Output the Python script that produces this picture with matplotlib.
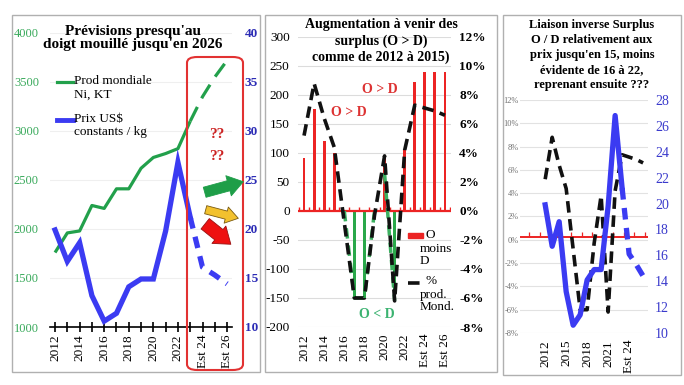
import matplotlib
matplotlib.use("Agg")
import matplotlib.pyplot as plt
import numpy as np
from matplotlib.patches import Rectangle, FancyBboxPatch, FancyArrowPatch
from matplotlib.lines import Line2D

plt.rcParams['font.family'] = ['Liberation Serif', 'DejaVu Serif']
plt.rcParams['axes.unicode_minus'] = False

# ---------------- data ----------------
years = ['2012', '2013', '2014', '2015', '2016', '2017', '2018', '2019', '2020',
         '2021', '2022', '2023', 'Est 24', 'Est 25', 'Est 26']
prod_ni = [1760, 1960, 1980, 2240, 2210, 2410, 2410, 2620, 2730, 2770, 2820, 3100, 3350, 3550, 3720]
price_usd = [19.9, 16.7, 18.6, 13.2, 10.6, 11.4, 14.1, 14.9, 14.9, 19.8, 26.8, 21.2, 16.1, 15.3, 14.4]
n_actual = 12  # 2012..2023 solid, then estimates dashed

surplus_pos = [92, 175, 120, 100, 0, 0, 0, 0, 95, 0, 105, 222, 240, 240, 240]
surplus_neg = [0, 0, 0, 0, 0, -150, -150, 0, 0, -145, 0, 0, 0, 0, 0]
neg_line_a = [None, None, None, None, 0, -150, -150, 0, None, None, None, None, None, None, None]
neg_line_b = [None, None, None, None, None, None, None, None, 65, -155, None, None, None, None, None]
pct_prod = [5.2, 8.8, 6.4, 4.4, -0.8, -6.0, -6.0, -0.3, 3.8, -6.2, 4.2, 7.3, 7.1, 6.9, 6.6]

W, H = 684, 385
fig = plt.figure(figsize=(W / 100, H / 100), dpi=100)


def axes_px(l, t, r, b):
    return fig.add_axes([l / W, 1 - b / H, (r - l) / W, (b - t) / H])


def fx(x):
    return x / W


def fy(y):
    return 1 - y / H


# panel frames
for (l, t, r, b) in [(12, 15, 260, 372), (265, 15, 497, 372), (503, 15, 681, 375)]:
    fig.add_artist(Rectangle((fx(l), fy(b)), (r - l) / W, (b - t) / H, transform=fig.transFigure,
                             fill=False, ec='#b0b0b0', lw=1.0))

x = np.arange(len(years))
GREEN = '#22a04b'
BLUE = '#3b3bf2'
RED = '#ec2424'

# ================= Panel 1 =================
ax1 = axes_px(50, 33, 232, 327)
ax1.set_xlim(-0.41, 14.4)
ax1.set_ylim(1000, 4000)
ax1.set_yticks(np.arange(1000, 4001, 500))
ax1.grid(axis='y', color='#efefef', lw=0.8)
ax1.set_axisbelow(True)
for s in ['top', 'left', 'right']:
    ax1.spines[s].set_visible(False)
ax1.spines['bottom'].set_color('black')
ax1.spines['bottom'].set_linewidth(1.2)
ax1.tick_params(axis='y', length=0, labelcolor='#3aaa5c', labelsize=9, pad=8)
ax1.set_xticks(x)
ax1.set_xticklabels([y if i % 2 == 0 else '' for i, y in enumerate(years)], rotation=90, fontsize=9.5)
ax1.tick_params(axis='x', direction='inout', length=7, width=1.2, pad=2)
ax1.plot(x[:n_actual], prod_ni[:n_actual], color=GREEN, lw=2.3, solid_capstyle='butt')
ax1.plot(x[n_actual - 1:], prod_ni[n_actual - 1:], color=GREEN, lw=2.3, dashes=(5, 3))

ax1b = ax1.twinx()
ax1b.set_ylim(10, 40)
ax1b.set_yticks(np.arange(10, 41, 5))
for s in ['top', 'left', 'right', 'bottom']:
    ax1b.spines[s].set_visible(False)
ax1b.tick_params(axis='y', length=0, labelcolor='#2b2bb5', labelsize=9.5, pad=9)
for lab in ax1b.get_yticklabels():
    lab.set_fontweight('bold')
ax1b.plot(x[:n_actual], price_usd[:n_actual], color=BLUE, lw=3.8, solid_joinstyle='miter')
ax1b.plot(x[n_actual - 1:], price_usd[n_actual - 1:], color=BLUE, lw=3.8, dashes=(2.2, 1.6))

# legend panel 1
fig.add_artist(Line2D([fx(57), fx(73)], [fy(82), fy(82)], color=GREEN, lw=2.3))
fig.text(fx(74), fy(75), "Prod mondiale\nNi, KT", fontsize=9.5, va='top', ha='left', linespacing=1.15)
fig.add_artist(Line2D([fx(57), fx(73)], [fy(120), fy(120)], color=BLUE, lw=3.5))
fig.text(fx(74), fy(113), "Prix US$\nconstants / kg", fontsize=9.5, va='top', ha='left', linespacing=1.15)

# title panel 1
fig.text(fx(133), fy(25), "Prévisions presqu'au\ndoigt mouillé jusqu'en 2026", fontsize=11,
         fontweight='bold', ha='center', va='top', linespacing=1.02)

# red rounded box + ?? + arrows
fig.add_artist(FancyBboxPatch((fx(187), fy(370)), (243 - 187) / W, (370 - 57) / H,
                              boxstyle='round,pad=0,rounding_size=0.015', transform=fig.transFigure,
                              fill=False, ec='#e23232', lw=1.5))
fig.text(fx(217), fy(135), "??", color='#cc2222', fontsize=11, fontweight='bold', ha='center', va='center')
fig.text(fx(217), fy(157), "??", color='#cc2222', fontsize=11, fontweight='bold', ha='center', va='center')


def fig_arrow(p0, p1, fc, ec, tw, hw, hl):
    a = FancyArrowPatch((fx(p0[0]), fy(p0[1])), (fx(p1[0]), fy(p1[1])), transform=fig.transFigure,
                        arrowstyle=f'simple,head_length={hl},head_width={hw},tail_width={tw}',
                        mutation_scale=10, fc=fc, ec=ec, lw=0.6)
    fig.add_artist(a)


fig_arrow((202, 193), (246, 181), '#1e9e48', '#1e9e48', 0.75, 1.5, 1.1)
fig_arrow((203, 209), (241, 219), '#f2c12e', '#7a5a10', 0.6, 1.2, 0.9)
fig_arrow((203, 222), (233, 246), '#ee1111', '#991111', 0.95, 1.6, 1.1)

# ================= Panel 2 =================
ax2 = axes_px(298, 37, 451, 327)
ax2.set_xlim(-0.6, 14.6)
ax2.set_ylim(-200, 300)
ax2.set_yticks(np.arange(-200, 301, 50))
ax2.grid(axis='y', color='#dcdcdc', lw=0.8)
ax2.set_axisbelow(True)
for s in ['top', 'left', 'right', 'bottom']:
    ax2.spines[s].set_visible(False)
ax2.tick_params(axis='y', length=0, labelsize=9.5, pad=6)
ax2.set_xticks(x)
ax2.set_xticklabels([y if i % 2 == 0 else '' for i, y in enumerate(years)], rotation=90, fontsize=9.5)
ax2.tick_params(axis='x', length=0, pad=5)
ax2.bar(x, surplus_pos, width=0.28, color=RED, zorder=2)
ax2.bar(x, surplus_neg, width=0.28, color='#2aa84a', zorder=2)
ax2.axhline(0, color=RED, lw=1.6, zorder=3)
ax2.vlines(np.arange(-0.5, 14.6, 1.0), 0, 7, color=RED, lw=1.0, zorder=3)
ax2.plot(x, [np.nan if v is None else v for v in neg_line_a], color='#3cb060', lw=2.5, dashes=(3, 2), zorder=5)
ax2.plot(x, [np.nan if v is None else v for v in neg_line_b], color='#3cb060', lw=2.5, dashes=(3, 2), zorder=5)

ax2b = ax2.twinx()
ax2b.set_ylim(-8, 12)
ax2b.set_yticks(np.arange(-8, 13, 2))
ax2b.set_yticklabels([f'{v}%' for v in range(-8, 13, 2)])
for s in ['top', 'left', 'right', 'bottom']:
    ax2b.spines[s].set_visible(False)
ax2b.tick_params(axis='y', length=0, labelsize=9.5, pad=6)
for lab in ax2b.get_yticklabels():
    lab.set_fontweight('bold')
ax2b.plot(x, pct_prod, color='#111111', lw=2.6, dashes=(3.2, 1.8), zorder=4)

ax2.text(7.5, 210, "O > D", color='#dd3333', fontsize=10, fontweight='bold', ha='center', va='center')
ax2.text(4.4, 169, "O > D", color='#dd3333', fontsize=10, fontweight='bold', ha='center', va='center')
ax2.text(7.25, -179, "O < D", color='#3cb371', fontsize=10, fontweight='bold', ha='center', va='center')

fig.text(fx(381), fy(18), "Augmentation à venir des\nsurplus (O > D)\ncomme de 2012 à 2015)", fontsize=10,
         fontweight='bold', ha='center', va='top', linespacing=1.3)

# legend panel 2
fig.add_artist(Rectangle((fx(408), fy(238)), 15 / W, 5 / H, transform=fig.transFigure, color=RED))
fig.text(fx(425), fy(235), "O", fontsize=9.5, ha='left', va='center')
fig.text(fx(420), fy(243), "moins\nD", fontsize=9.5, ha='left', va='top', linespacing=1.0)
fig.add_artist(Line2D([fx(408), fx(423)], [fy(283), fy(283)], color='#111111', lw=2.6, dashes=(3.2, 1.8)))
fig.text(fx(425), fy(281), "%", fontsize=9.5, ha='left', va='center')
fig.text(fx(420), fy(289), "prod.\nMond.", fontsize=9.5, ha='left', va='top', linespacing=1.0)

# ================= Panel 3 =================
ax3 = axes_px(520, 100, 648, 333)
ax3.set_xlim(-3.6, 14.7)
ax3.set_ylim(-8, 12)
ax3.set_yticks(np.arange(-8, 13, 2))
ax3.set_yticklabels([f'{v}%' for v in range(-8, 13, 2)])
ax3.grid(axis='y', color='#e2e2e2', lw=0.8)
ax3.set_axisbelow(True)
for s in ['top', 'left', 'right', 'bottom']:
    ax3.spines[s].set_visible(False)
ax3.tick_params(axis='y', length=0, labelsize=6, labelcolor='#707070', pad=1)
ax3.set_xticks(x[::3])
ax3.set_xticklabels(years[::3], rotation=90, fontsize=9.5)
ax3.tick_params(axis='x', length=0, pad=5)
ax3.axhline(0.2, color=RED, lw=1.4, zorder=2)
ax3.vlines(np.linspace(-2.3, 14.2, 12), 0.2, 0.7, color=RED, lw=0.9, zorder=2)
ax3.plot(x, pct_prod, color='#111111', lw=2.6, dashes=(3.2, 1.8), zorder=4)

ax3b = ax3.twinx()
ax3b.set_ylim(10, 28)
ax3b.set_yticks(np.arange(10, 29, 2))
for s in ['top', 'left', 'right', 'bottom']:
    ax3b.spines[s].set_visible(False)
ax3b.tick_params(axis='y', length=0, labelsize=10, labelcolor='#3a3acc', pad=5)
ax3b.plot(x[:n_actual], price_usd[:n_actual], color=BLUE, lw=3.8, zorder=5)
ax3b.plot(x[n_actual - 1:], price_usd[n_actual - 1:], color=BLUE, lw=3.8, dashes=(2.2, 1.6), zorder=5)

fig.text(fx(592), fy(19), "Liaison inverse Surplus\nO / D relativement aux\nprix jusqu'en 15, moins\névidente de 16 à 22,\nreprenant ensuite ???",
         fontsize=9, fontweight='bold', ha='center', va='top', linespacing=1.33)

fig.savefig('out.png', dpi=100)
